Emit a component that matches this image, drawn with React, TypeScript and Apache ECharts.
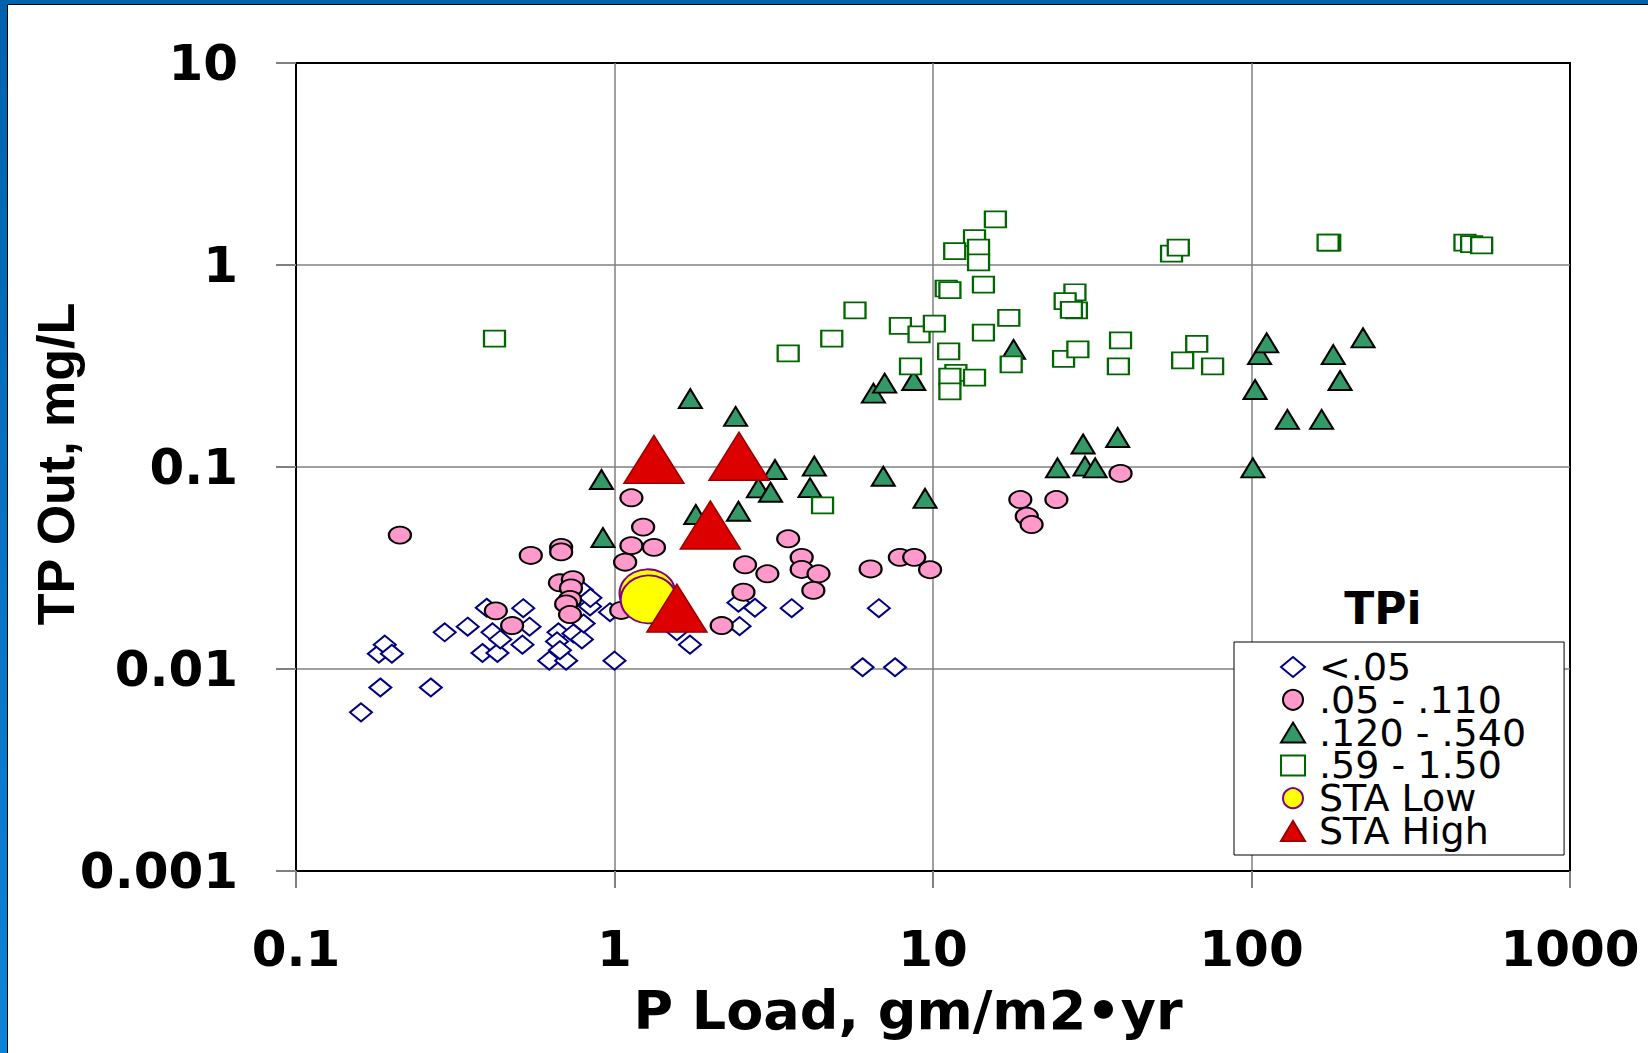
import React, { useEffect, useRef } from "react";
import * as echarts from "echarts";

const xTickValues = [0.1, 1, 10, 100, 1000];
const xTickLabels = ["0.1", "1", "10", "100", "1000"];
const yTickValues = [0.001, 0.01, 0.1, 1, 10];
const yTickLabels = ["0.001", "0.01", "0.1", "1", "10"];

const seriesNames = ["<.05", ".05 - .110", ".120 - .540", ".59 - 1.50", "STA Low", "STA High"];

// TPi < .05
const lowTP: number[][] = [
  [0.16, 0.0061], [0.184, 0.0081], [0.265, 0.0081], [0.182, 0.0119], [0.19, 0.0132],
  [0.2, 0.0119], [0.293, 0.0152], [0.346, 0.0162], [0.397, 0.0201], [0.414, 0.0152],
  [0.385, 0.012], [0.429, 0.012], [0.438, 0.014], [0.517, 0.02], [0.541, 0.0162],
  [0.514, 0.0132], [0.624, 0.011], [0.705, 0.011], [0.667, 0.0152], [0.66, 0.0137],
  [0.674, 0.0124], [0.743, 0.015], [0.79, 0.014], [0.8, 0.0168], [0.838, 0.0204],
  [0.79, 0.0246], [0.84, 0.0225], [0.968, 0.0191], [1.0, 0.011], [1.57, 0.0154],
  [1.726, 0.0132], [2.45, 0.0213], [2.76, 0.0201], [2.47, 0.0163], [3.6, 0.02],
  [6.76, 0.02], [6.01, 0.0102], [7.6, 0.0102],
];

// TPi .05 - .110
const midTP: number[][] = [
  [0.212, 0.046], [0.546, 0.0365], [0.68, 0.04], [0.68, 0.038], [0.674, 0.0267],
  [0.74, 0.0277], [0.73, 0.0252], [0.725, 0.0221], [0.705, 0.021], [0.725, 0.0186],
  [0.424, 0.0194], [0.477, 0.0164], [1.05, 0.0195], [1.08, 0.0338], [1.13, 0.0408],
  [1.23, 0.0504], [1.33, 0.04], [1.13, 0.0704], [2.17, 0.0164], [2.57, 0.0328],
  [2.54, 0.024], [3.02, 0.0296], [3.51, 0.0441], [3.87, 0.0357], [3.87, 0.0311],
  [4.37, 0.0296], [4.21, 0.0245], [6.37, 0.0313], [7.87, 0.0357], [8.73, 0.0357],
  [9.79, 0.031], [18.8, 0.069], [19.7, 0.057], [20.4, 0.0519], [24.4, 0.069],
  [38.8, 0.0929],
];

// TPi .120 - .540
const highTP: number[][] = [
  [0.91, 0.0867], [0.92, 0.0447], [1.73, 0.218], [2.4, 0.178], [1.8, 0.0582],
  [2.45, 0.0604], [2.83, 0.0789], [3.09, 0.075], [3.19, 0.0972], [4.11, 0.079],
  [4.24, 0.101], [6.98, 0.09], [9.44, 0.07], [6.5, 0.232], [7.05, 0.26],
  [8.7, 0.268], [17.9, 0.382], [24.6, 0.099], [29.6, 0.13], [30.0, 0.101],
  [32.3, 0.099], [38.0, 0.14], [101, 0.099], [102.6, 0.242], [106, 0.36],
  [111.6, 0.412], [129.6, 0.172], [166, 0.172], [180.6, 0.36], [189.7, 0.268],
  [224, 0.436],
];

// TPi .59 - 1.50
const veryHighTP: number[][] = [
  [0.42, 0.432], [3.51, 0.365], [4.81, 0.432], [5.69, 0.596], [4.5, 0.0645],
  [15.7, 1.68], [13.5, 1.36], [13.9, 1.22], [13.9, 1.03], [11.7, 1.17],
  [11.0, 0.765], [11.3, 0.75], [14.4, 0.8], [7.9, 0.5], [9.04, 0.453],
  [10.1, 0.513], [17.3, 0.548], [14.4, 0.462], [11.2, 0.374], [8.5, 0.315],
  [11.8, 0.292], [11.3, 0.28], [13.5, 0.277], [11.3, 0.237], [17.6, 0.322],
  [27.9, 0.733], [26.0, 0.662], [28.2, 0.597], [27.2, 0.6], [25.7, 0.343],
  [28.5, 0.382], [38.8, 0.424], [38.2, 0.315], [60.8, 0.337], [67.3, 0.407],
  [75.5, 0.315], [56.1, 1.14], [58.9, 1.22], [176, 1.29], [174, 1.29],
  [468, 1.29], [491, 1.27], [528, 1.25],
];

const staLow: number[][] = [[1.27, 0.0237], [1.28, 0.0221]];
const staHigh: number[][] = [[1.33, 0.109], [2.46, 0.113], [2.0, 0.0516], [1.57, 0.02]];

const findLabel = (vals: number[], labels: string[], v: number) => {
  const i = vals.findIndex((t) => Math.abs(Math.log10(t) - Math.log10(v)) < 1e-6);
  return i >= 0 ? labels[i] : "";
};

const tickFont = "DejaVu Sans";

export default function App() {
  const ref = useRef<HTMLDivElement>(null);
  useEffect(() => {
    if (!ref.current) return;
    const chart = echarts.init(ref.current, undefined, { renderer: "svg" });
    const scatterBase = { type: "scatter" as const, silent: true, emphasis: { disabled: true } };
    chart.setOption({
      animation: false,
      backgroundColor: "#fff",
      grid: { left: 296, top: 63, width: 1274, height: 808, show: true, borderColor: "#000", borderWidth: 2, backgroundColor: "transparent" },
      xAxis: {
        type: "log", logBase: 10, min: 0.1, max: 1000,
        axisLine: { show: true, lineStyle: { color: "#000", width: 2 } },
        axisTick: { show: true, length: 17, lineStyle: { color: "#808080", width: 2 } },
        minorTick: { show: false },
        splitLine: { show: true, showMinLine: false, showMaxLine: false, lineStyle: { color: "#808080", width: 1.5 } },
        axisLabel: {
          margin: 53, fontFamily: tickFont, fontWeight: "bold", fontSize: 50, color: "#000",
          formatter: (v: number) => findLabel(xTickValues, xTickLabels, v),
        },
      },
      yAxis: {
        type: "log", logBase: 10, min: 0.001, max: 10,
        axisLine: { show: true, lineStyle: { color: "#000", width: 2 } },
        axisTick: { show: true, length: 20, lineStyle: { color: "#808080", width: 2 } },
        minorTick: { show: false },
        splitLine: { show: true, showMinLine: false, showMaxLine: false, lineStyle: { color: "#808080", width: 1.5 } },
        axisLabel: {
          margin: 58, fontFamily: tickFont, fontWeight: "bold", fontSize: 50, color: "#000",
          formatter: (v: number) => findLabel(yTickValues, yTickLabels, v),
        },
      },
      legend: {
        orient: "vertical",
        left: 1234,
        top: 642,
        padding: [6, 38, 5, 46],
        itemGap: -5.2,
        itemWidth: 24,
        itemHeight: 20,
        symbolKeepAspect: false,
        selectedMode: false,
        backgroundColor: "#fff",
        borderColor: "#000",
        borderWidth: 1,
        borderRadius: 0,
        textStyle: { fontFamily: "DejaVu Sans", fontSize: 38, color: "#000", padding: [0, 0, 0, 9] },
        data: seriesNames,
      },
      graphic: [
        { type: "rect", shape: { x: 0, y: 0, width: 1648, height: 4 }, style: { fill: "#0064AE" }, silent: true },
        {
          type: "rect", shape: { x: 0, y: 0, width: 7, height: 1053 }, silent: true,
          style: { fill: new echarts.graphic.LinearGradient(0, 0, 0, 1, [{ offset: 0, color: "#0062AC" }, { offset: 1, color: "#0A84DA" }]) },
        },
        { type: "line", shape: { x1: 7.5, y1: 4.5, x2: 7.5, y2: 1053 }, style: { stroke: "#000", lineWidth: 1 }, silent: true },
        { type: "line", shape: { x1: 7.5, y1: 4.5, x2: 1648, y2: 4.5 }, style: { stroke: "#000", lineWidth: 1 }, silent: true },
        {
          type: "text", x: 908, y: 1010, silent: true,
          style: { text: "P Load, gm/m2•yr", font: "bold 54px 'DejaVu Sans'", fill: "#000", align: "center", verticalAlign: "middle", textAlign: "center", textVerticalAlign: "middle" },
        },
        {
          type: "text", x: 56, y: 464, rotation: Math.PI / 2, silent: true,
          style: { text: "TP Out, mg/L", font: "bold 52px 'Liberation Sans'", fill: "#000", align: "center", verticalAlign: "middle", textAlign: "center", textVerticalAlign: "middle" },
        },
        {
          type: "text", x: 1383, y: 608, silent: true,
          style: { text: "TPi", font: "bold 44px 'DejaVu Sans'", fill: "#000", align: "center", verticalAlign: "middle", textAlign: "center", textVerticalAlign: "middle" },
        },
      ],
      series: [
        { ...scatterBase, name: seriesNames[0], data: lowTP, symbol: "diamond", symbolSize: [22, 18],
          itemStyle: { color: "#fff", borderColor: "#000080", borderWidth: 2, opacity: 1 } },
        { ...scatterBase, name: seriesNames[1], data: midTP, symbol: "circle", symbolSize: [22, 17],
          itemStyle: { color: "#FF99CC", borderColor: "#000", borderWidth: 2, opacity: 1 } },
        { ...scatterBase, name: seriesNames[2], data: highTP, symbol: "triangle", symbolSize: [23, 19],
          itemStyle: { color: "#339966", borderColor: "#000", borderWidth: 2, opacity: 1 } },
        { ...scatterBase, name: seriesNames[3], data: veryHighTP, symbol: "rect", symbolSize: [21, 16],
          itemStyle: { color: "#fff", borderColor: "#006600", borderWidth: 2, opacity: 1 } },
        { ...scatterBase, name: seriesNames[4], data: staLow, symbol: "circle", symbolSize: [56, 48],
          itemStyle: { color: "#FFFF00", borderColor: "#800080", borderWidth: 2, opacity: 1 } },
        { ...scatterBase, name: seriesNames[5], data: staHigh, symbol: "triangle", symbolSize: [60, 48],
          itemStyle: { color: "#DD0000", borderColor: "#990000", borderWidth: 1.5, opacity: 1 } },
      ],
    });
    return () => chart.dispose();
  }, []);
  return (
    <div
      ref={ref}
      style={{ position: "fixed", left: 0, top: 0, width: 1648, height: 1053, background: "#fff" }}
    />
  );
}
